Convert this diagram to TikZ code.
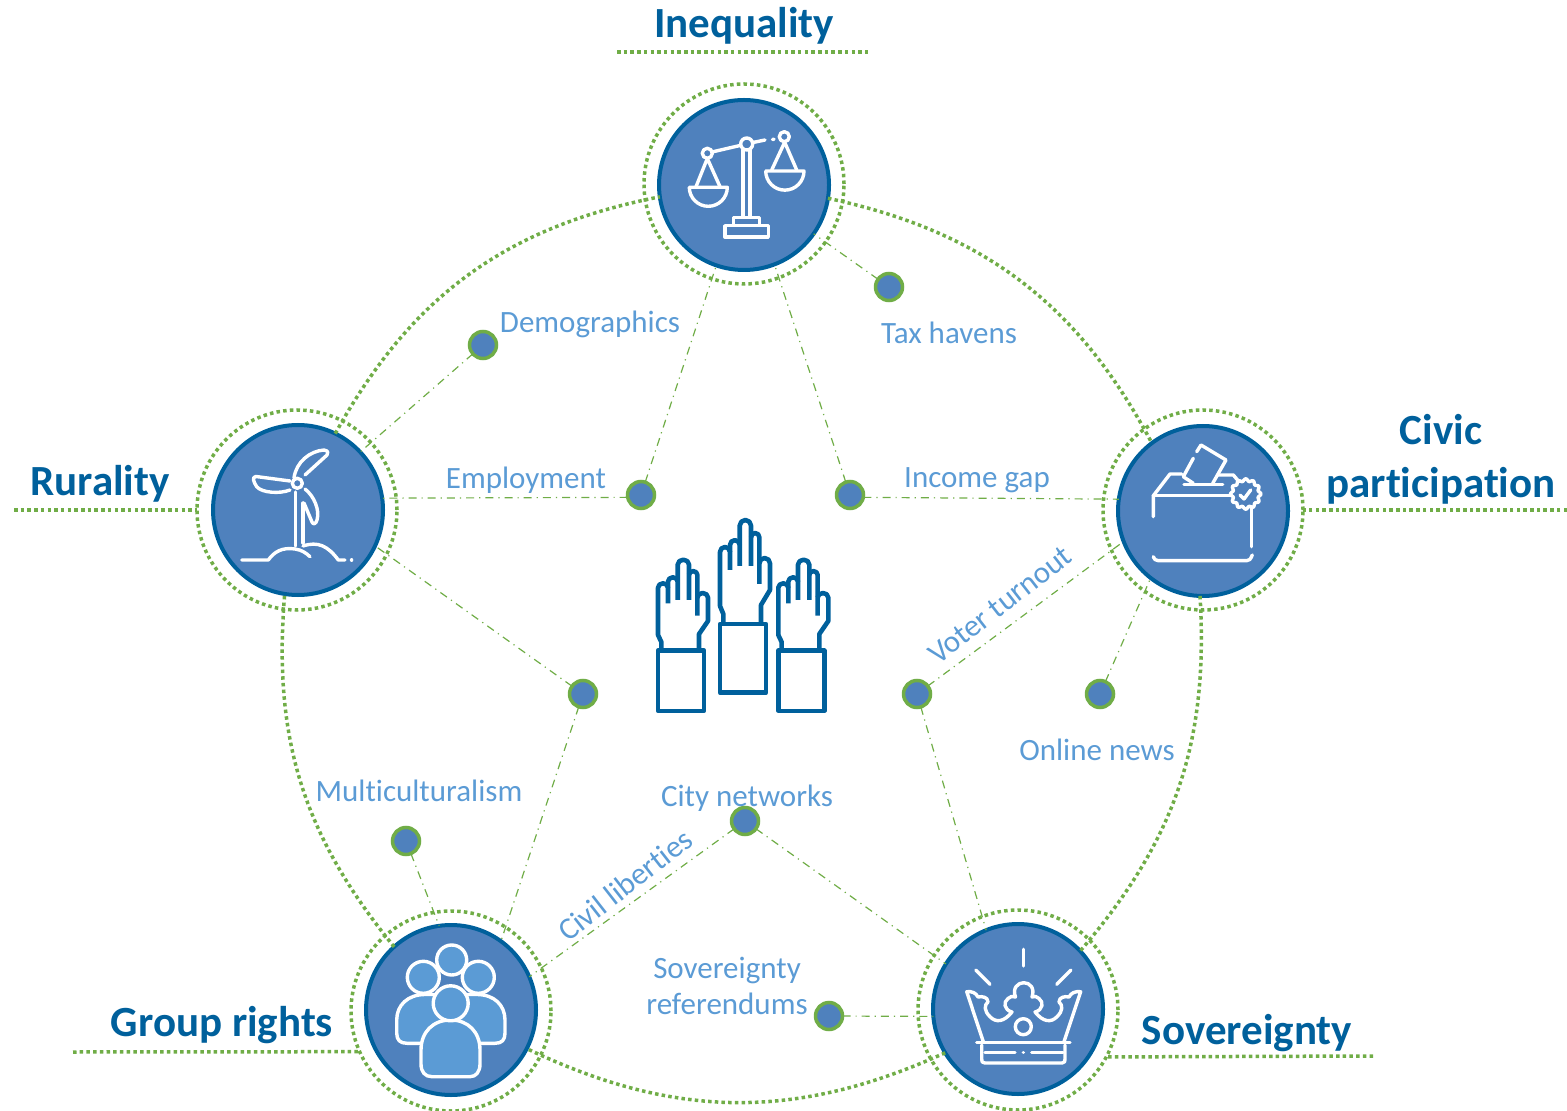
\documentclass[tikz,border=0pt]{standalone}
\usepackage{fontspec}
\setmainfont{Carlito}[Ligatures=CommonOff]
\definecolor{hubblue}{RGB}{79,129,189}
\definecolor{darkblue}{RGB}{0,96,156}
\definecolor{lightblue}{RGB}{91,155,213}
\definecolor{dotgreen}{RGB}{112,173,71}

\newcommand{\raisedhand}{
  \draw (0,0) rectangle (46,68.7);
  \draw (3.3,0) -- (3.3,-10) -- (0,-18) -- (0,-72) arc [start angle=180, end angle=360, radius=5] -- (10,-54);
  \draw (10,-72) -- (10,-79) arc [start angle=180, end angle=360, radius=4.85] -- (19.7,-58);
  \draw (19.7,-79) -- (19.7,-98.35) arc [start angle=180, end angle=360, radius=5.65] -- (31,-58);
  \draw (31,-86.8) arc [start angle=180, end angle=360, radius=4.15] -- (39.3,-40);
  \draw (39.3,-60.6) arc [start angle=180, end angle=360, radius=5.35] -- (50,-34) -- (41,-19) -- (41,0);
}

\begin{document}
\begin{tikzpicture}[
x=0.5pt, y=-0.5pt,
hub/.style={circle, minimum size=85pt, inner sep=0pt, outer sep=0pt, line width=2pt, draw=darkblue, fill=hubblue},
ring/.style={circle, minimum size=100pt, inner sep=0pt, outer sep=0pt, line width=1.75pt, draw=dotgreen, dash pattern=on 1.75pt off 1.6pt},
topic/.style={circle, minimum size=13.5pt, inner sep=0pt, outer sep=0pt, line width=1.75pt, draw=dotgreen, fill=hubblue},
arc-line/.style={draw=dotgreen, line width=1.75pt, dash pattern=on 1.75pt off 1.6pt},
thin-line/.style={draw=dotgreen, line width=0.6pt, dash pattern=on 4pt off 2.5pt on 0.6pt off 2.5pt},
topic-text/.style={text=lightblue, inner sep=0pt, align=center, font=\fontsize{15.5}{18}\selectfont},
head-text/.style={text=darkblue, inner sep=0pt, align=center, font=\fontsize{21.5}{26.5}\selectfont\bfseries},
icon/.style={draw=white, line width=1.7pt, line cap=round, line join=round},
person/.style={icon, fill=lightblue}
]
\useasboundingbox (0,0) rectangle (1567,1111);

% hubs
\node [hub] (inequality) at (744,185) {};
\node [hub] (rurality) at (298,510) {};
\node [hub] (civic) at (1203,511) {};
\node [hub] (group) at (451,1010) {};
\node [hub] (sovereignty) at (1018,1009) {};
\node [ring] (inequality-ring) at (744,184) {};
\node [ring] (rurality-ring) at (297,510) {};
\node [ring] (civic-ring) at (1203,510) {};
\node [ring] (group-ring) at (451,1011) {};
\node [ring] (sovereignty-ring) at (1018,1010) {};

% topic dots
\node [topic] (demographics) at (483,345) {};
\node [topic] (tax) at (889,287) {};
\node [topic] (employment) at (641,495) {};
\node [topic] (income) at (850,495) {};
\node [topic] (left-dot) at (583,694) {};
\node [topic] (voter) at (917,694) {};
\node [topic] (online) at (1100,694) {};
\node [topic] (multi) at (406,841) {};
\node [topic] (city) at (745,821) {};
\node [topic] (referendums) at (829,1016) {};

% outer arcs
\path [arc-line] (rurality.64) to [bend left=25] (inequality.188);
\path [arc-line] (inequality.351) to [bend left=25] (civic.127);
\path [arc-line] (civic.268) to [bend left=22] (sovereignty.43);
\path [arc-line] (sovereignty.211) to [bend left=25] (group.-27);
\path [arc-line] (group.132) to [bend left=22] (rurality.261);

% thin links
\path [thin-line] (demographics) -- (rurality.43);
\path [thin-line] (tax) -- (inequality.-35);
\path [thin-line] (employment.190) -- (rurality.8);
\path [thin-line] (employment) -- (inequality.251);
\path [thin-line] (income) -- (inequality.291);
\path [thin-line] (income.-10) -- (civic.172);
\path [thin-line] (left-dot) -- (rurality.-25);
\path [thin-line] (left-dot) -- (group.54);
\path [thin-line] (voter) -- (civic.201);
\path [thin-line] (voter) -- (sovereignty.112);
\path [thin-line] (online) -- (civic.232);
\path [thin-line] (multi) -- (group.98);
\path [thin-line] (city) -- (group.23);
\path [thin-line] (city) -- (sovereignty.148);
\path [thin-line] (referendums) -- (sovereignty.185);

% headings
\coordinate (inequality-a) at (617,52);
\coordinate (inequality-b) at (870,52);
\coordinate (rurality-end) at (14,510);
\coordinate (civic-end) at (1567,510);
\coordinate (group-end) at (73,1052);
\coordinate (sovereignty-end) at (1373,1056);
\path [arc-line] (inequality-a) -- (inequality-b);
\path [arc-line] (rurality-end) -- (rurality-ring.west);
\path [arc-line] (civic-end) -- (civic-ring.east);
\path [arc-line] (group-end) -- (group-ring.204);
\path [arc-line] (sovereignty-end) -- (sovereignty-ring.-28);
\node [head-text] (inequality-head) at (744,26) {Inequality};
\node [head-text] (rurality-head) at (100,484) {Rurality};
\node [head-text] (civic-head) at (1441,459) {Civic\\participation};
\node [head-text] (group-head) at (222,1025) {Group rights};
\node [head-text] (sovereignty-head) at (1247,1033) {Sovereignty};

% topic labels
\node [topic-text] (demographics-text) at (590,324) {Demographics};
\node [topic-text] (tax-text) at (949,333) {Tax havens};
\node [topic-text] (employment-text) at (526,480) {Employment};
\node [topic-text] (income-text) at (977,480) {Income gap};
\node [topic-text] (online-text) at (1097,750) {Online news};
\node [topic-text] (multi-text) at (419,791) {Multiculturalism};
\node [topic-text] (city-text) at (747,798) {City networks};
\node [topic-text] (referendums-text) at (727,986) {Sovereignty\\referendums};
\node [topic-text, rotate=38] (voter-text) at (1000,605) {Voter turnout};
\node [topic-text, rotate=38] (civil-text) at (625,885) {Civil liberties};

% scales
\draw [icon] (746.7,144) circle [radius=6];
\draw [icon] (707.3,153.3) circle [radius=5];
\draw [icon] (784.3,136.7) circle [radius=5];
\draw [icon] (712,152) -- (740,145.5);
\draw [icon] (753,142.5) -- (765,140);
\draw [icon] (772.5,139.5) -- (774,139.2);
\draw [icon] (743,150) -- (743,217) (750,150) -- (750,217);
\draw [icon] (733.3,217.7) rectangle (759.3,225.7);
\draw [icon] (725,225.7) rectangle (768.3,237);
\draw [icon] (706.7,160) -- (696,186.7) (708,160) -- (720,186.7);
\draw [icon] (689.3,187.3) -- (727.3,187.3) arc [start angle=0, end angle=180, radius=19];
\draw [icon] (784.3,143) -- (771.7,170) (785,143) -- (796.7,170);
\draw [icon] (765.7,171) -- (804,171) arc [start angle=0, end angle=180, radius=19.15];

% wind turbine
\draw [icon] (297.3,483.3) circle [radius=5];
\draw [icon] (295.5,492) -- (295.5,546) (303,503) -- (303,543);
\draw [icon] (294,478) .. controls (296,462) and (310,451) .. (324,450) .. controls (329,451) and (328,453) .. (327,455) -- (305,475);
\draw [icon] (290,481) -- (256,476.5) .. controls (252,477) and (253,481) .. (256.7,486.7) .. controls (262,493) and (280,494) .. (290,490);
\draw [icon] (305,489) .. controls (314,496) and (320,510) .. (317,520) .. controls (316,524) and (313,525) .. (312,522) -- (304,503);
\draw [icon] (241.7,560) -- (268.3,560) .. controls (274,552) and (282,547) .. (295,549) .. controls (302,550) and (306,553) .. (310,556.7);
\draw [icon] (303,546) .. controls (318,541) and (328,546) .. (338.3,560) -- (345,560);
\draw [icon] (351.5,560) -- (351.6,560);

% ballot box
\draw [icon] (1153.3,516.7) -- (1153.3,495.7) -- (1170,474) -- (1181.7,474);
\draw [icon] (1153.3,495.7) -- (1231.7,495.7);
\draw [icon] (1218.3,475) -- (1233.3,475) -- (1239,481.7);
\draw [icon] (1251.7,506.7) -- (1251.7,546.7);
\draw [icon] (1153.3,556.7) .. controls (1155,560) .. (1158.3,560.7) -- (1246.7,560.7) .. controls (1250,560) .. (1252.3,555);
\draw [icon] (1184,484.3) -- (1222.7,484.3);
\draw [icon] (1193.3,458.3) -- (1183.3,476.7) -- (1193.3,483.3);
\draw [icon] (1196.7,451.7) -- (1201,445) -- (1226,460) -- (1212.7,483.3);
\draw [icon] plot [domain=0:360, samples=97, smooth] ({1245.7+(14+1.2*cos(12*\x))*cos(\x)},{494+(14+1.2*cos(12*\x))*sin(\x)});
\draw [icon] (1240,495) -- (1244,499) -- (1250.7,490);

% people
\draw [person] (451.7,960) circle [radius=15];
\draw [person] (423.3,977.3) circle [radius=16];
\draw [person] (478.3,977.3) circle [radius=16];
\draw [person] (421.7,1043.3) -- (407,1043.3) .. controls (400,1043.3) and (396.7,1040) .. (396.7,1033) -- (396.7,1020) .. controls (396.7,1005) and (408,994.5) .. (425,994.5) -- (445,994.5) -- (445,1043.3) -- cycle;
\draw [person] (480,1043.3) -- (495,1043.3) .. controls (502,1043.3) and (505,1040) .. (505,1033) -- (505,1020) .. controls (505,1005) and (494,994.5) .. (477,994.5) -- (457,994.5) -- (457,1043.3) -- cycle;
\draw [person] (421,1064) .. controls (421,1072) and (425,1076.7) .. (432,1076.7) -- (470,1076.7) .. controls (476,1076.7) and (480,1072) .. (480,1064) -- (480,1050) .. controls (480,1032) and (468,1020) .. (450.7,1020) .. controls (433,1020) and (421,1032) .. (421,1050) -- cycle;
\draw [person] (450.7,1003.3) circle [radius=17.5];

% crown
\draw [icon] (1023.3,949.3) -- (1023.3,966);
\draw [icon] (975.7,970) -- (990,984.3);
\draw [icon] (1071,970) -- (1056.7,984.3);
\draw [icon] (983.3,1041.7) -- (966.7,991.7) .. controls (972,991) and (976,993) .. (978,997) .. controls (982,996) and (988,997) .. (988,1002) .. controls (984,1005) and (984,1011) .. (990,1016.7) .. controls (996,1023) and (1004,1022) .. (1012,1012) .. controls (1004,1010) and (1003,1002) .. (1008,998.5) .. controls (1010,996) and (1013,996) .. (1015.5,997) .. controls (1012,988) and (1018,982.7) .. (1023.7,982.7) .. controls (1030,982.7) and (1035,988) .. (1032,997) .. controls (1034,996) and (1037,996) .. (1039,998.5) .. controls (1044,1002) and (1043,1010) .. (1035,1012) .. controls (1043,1022) and (1051,1023) .. (1057,1016.7) .. controls (1063,1011) and (1063,1005) .. (1059,1002) .. controls (1059,997) and (1065,996) .. (1069,997) .. controls (1071,993) and (1075,991) .. (1080.7,991.7) -- (1064,1041.7);
\draw [icon] (1023.3,1026.7) circle [radius=8];
\draw [icon] (976.7,1042.7) -- (1070,1042.7);
\draw [icon] (981.7,1045) -- (981.7,1059) .. controls (981.7,1062) .. (985,1063) -- (1062,1063) .. controls (1065,1062) .. (1065,1059) -- (1065,1045);
\draw [icon] (985,1052.7) -- (1015,1052.7) (1031.7,1052.7) -- (1063,1052.7);
\draw [icon] (1023.3,1052.7) -- (1023.4,1052.7);

% hands
\tikzset{every path/.style={draw=darkblue, line width=2.3pt, line join=round}}
\begin{scope}[shift={(720,624)}]
\raisedhand
\end{scope}
\begin{scope}[shift={(658,650.7)}, yscale=0.875]
\raisedhand
\end{scope}
\begin{scope}[shift={(778.3,650.7)}, yscale=0.875]
\raisedhand
\end{scope}
\end{tikzpicture}
\end{document}
